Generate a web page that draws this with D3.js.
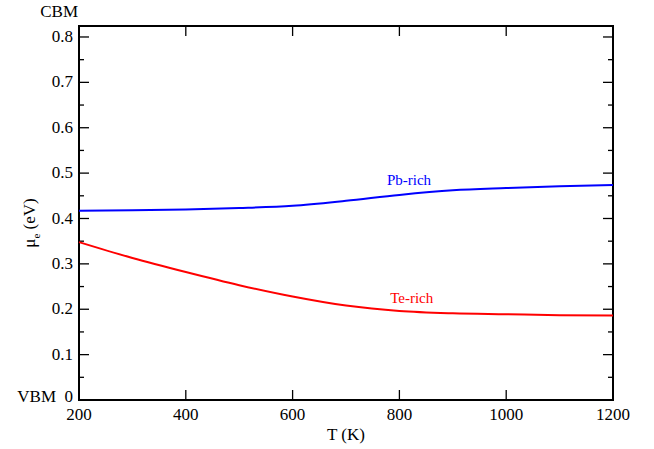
<!DOCTYPE html>
<html>
<head>
<meta charset="utf-8">
<script src="https://cdnjs.cloudflare.com/ajax/libs/d3/7.8.5/d3.min.js"></script>
<style>
  body { margin: 0; background: #fff; }
</style>
</head>
<body>
<div id="chart"></div>
<script>
// temperatures (K)
var temps = [200, 300, 400, 500, 600, 700, 800, 900, 1000, 1100, 1200];
// electron chemical potential (eV)
var pbRich = [0.417, 0.418, 0.420, 0.423, 0.428, 0.439, 0.452, 0.462, 0.467, 0.471, 0.474];
var teRich = [0.348, 0.313, 0.282, 0.253, 0.228, 0.208, 0.196, 0.191, 0.189, 0.187, 0.186];
var xTicks = [200, 400, 600, 800, 1000, 1200];
var yTicks = [0, 0.1, 0.2, 0.3, 0.4, 0.5, 0.6, 0.7, 0.8];
var yMinor = [0.05, 0.15, 0.25, 0.35, 0.45, 0.55, 0.65, 0.75];

var width = 654, height = 449;
var margin = {left: 79, right: 41, top: 26, bottom: 49};
var w = width - margin.left - margin.right,
    h = height - margin.top - margin.bottom;
var serif = "'Liberation Serif', 'DejaVu Serif', 'Times New Roman', serif";

var svg = d3.select("#chart").append("svg")
  .attr("width", width)
  .attr("height", height)
  .attr("font-family", serif);

var g = svg.append("g")
  .attr("transform", `translate(${margin.left},${margin.top})`);

var x = d3.scaleLinear().domain([200, 1200]).range([0, w]);
var y = d3.scaleLinear().domain([0, 0.8242]).range([h, 0]);

// ticks, all pointing inward
var tickLen = 10, minorLen = 5;
function vTicks(sel, vals, len, side) {
  sel.selectAll(null).data(vals).join("line")
    .attr("x1", side == "left" ? 0 : w)
    .attr("x2", side == "left" ? len : w - len)
    .attr("y1", d => y(d)).attr("y2", d => y(d))
    .attr("stroke", "#000").attr("stroke-width", 1.3);
}
function hTicks(sel, vals, len, side) {
  sel.selectAll(null).data(vals).join("line")
    .attr("y1", side == "bottom" ? h : 0)
    .attr("y2", side == "bottom" ? h - len : len)
    .attr("x1", d => x(d)).attr("x2", d => x(d))
    .attr("stroke", "#000").attr("stroke-width", 1.3);
}
var ticks = g.append("g");
vTicks(ticks, yTicks, tickLen, "left");
vTicks(ticks, yMinor, minorLen, "left");
vTicks(ticks, yTicks, tickLen, "right");
vTicks(ticks, yMinor, minorLen, "right");
hTicks(ticks, xTicks.slice(1, -1), tickLen, "bottom");
hTicks(ticks, xTicks.slice(1, -1), tickLen, "top");

// frame
g.append("rect")
  .attr("width", w).attr("height", h)
  .attr("fill", "none")
  .attr("stroke", "#000").attr("stroke-width", 2);

// tick labels
g.append("g").selectAll("text").data(yTicks).join("text")
  .attr("x", -6).attr("y", d => y(d)).attr("dy", d => d === 0 ? "0.12em" : "0.3em")
  .attr("text-anchor", "end")
  .attr("font-size", 17)
  .text(d => d === 0 ? "0" : d3.format(".1f")(d));

g.append("g").selectAll("text").data(xTicks).join("text")
  .attr("x", d => x(d)).attr("y", h + 20)
  .attr("text-anchor", "middle")
  .attr("font-size", 17)
  .text(d => d);

g.append("text")
  .attr("x", -1).attr("y", -9)
  .attr("text-anchor", "end")
  .attr("font-size", 17)
  .text("CBM");

g.append("text")
  .attr("x", -23).attr("y", h).attr("dy", "0.12em")
  .attr("text-anchor", "end")
  .attr("font-size", 17)
  .text("VBM");

// axis titles
g.append("text")
  .attr("x", w / 2).attr("y", h + 40)
  .attr("text-anchor", "middle")
  .attr("font-size", 17)
  .text("T (K)");

var yl = svg.append("text")
  .attr("transform", "translate(35,223) rotate(-90)")
  .attr("text-anchor", "middle")
  .attr("font-size", 17);
yl.append("tspan").text("\u03bc");
yl.append("tspan").attr("font-size", 11).attr("dy", 5).text("e");
yl.append("tspan").attr("dy", -5).text(" (eV)");

// curves
var line = d3.line()
  .x((d, i) => x(temps[i]))
  .y(d => y(d))
  .curve(d3.curveMonotoneX);

g.append("path").datum(pbRich)
  .attr("d", line)
  .attr("fill", "none")
  .attr("stroke", "#0000ff")
  .attr("stroke-width", 2);

g.append("path").datum(teRich)
  .attr("d", line)
  .attr("fill", "none")
  .attr("stroke", "#ff0000")
  .attr("stroke-width", 2);

g.append("text")
  .attr("x", x(818)).attr("y", y(0.474))
  .attr("text-anchor", "middle")
  .attr("font-size", 15)
  .attr("fill", "#0000ff")
  .text("Pb-rich");

g.append("text")
  .attr("x", x(823)).attr("y", y(0.214))
  .attr("text-anchor", "middle")
  .attr("font-size", 15)
  .attr("fill", "#ff0000")
  .text("Te-rich");
</script>
</body>
</html>
